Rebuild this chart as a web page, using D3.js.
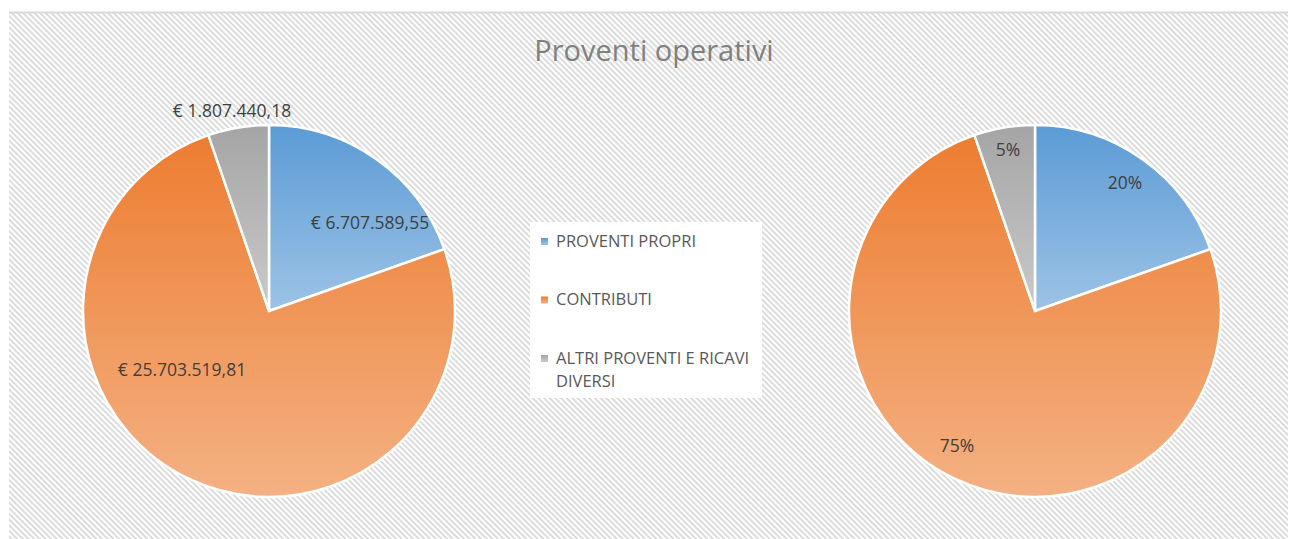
<!DOCTYPE html>
<html lang="it">
<head>
  <meta charset="utf-8">
  <title>Proventi operativi</title>
  <script src="https://d3js.org/d3.v7.min.js"></script>
  <style>
    body { margin: 0; background: #fff; }
    text { font-family: "Open Sans", "Noto Sans", sans-serif; }
  </style>
</head>
<body>
<script>
  // dati
  var categories = ["PROVENTI PROPRI", "CONTRIBUTI", "ALTRI PROVENTI E RICAVI DIVERSI"];
  var values = [6707589.55, 25703519.81, 1807440.18];
  var valueLabels = ["€ 6.707.589,55", "€ 25.703.519,81", "€ 1.807.440,18"];
  var pctLabels = ["20%", "75%", "5%"];

  var width = 1290, height = 539;
  var colorsTop = ["#5b9bd5", "#ed7d31", "#a5a5a5"];
  var colorsBottom = ["#9dc3e6", "#f4b183", "#cacaca"];

  var svg = d3.select("body").append("svg")
    .attr("width", width)
    .attr("height", height);

  var defs = svg.append("defs");

  // sfondo tratteggiato
  var pat = defs.append("pattern")
    .attr("id", "hatch")
    .attr("patternUnits", "userSpaceOnUse")
    .attr("width", 4)
    .attr("height", 4)
    .attr("patternTransform", "rotate(45)");
  pat.append("rect").attr("width", 4).attr("height", 4).attr("fill", "#ffffff");
  pat.append("rect").attr("width", 4).attr("height", 1.7).attr("fill", "#d6d6d6");

  svg.append("rect")
    .attr("x", 9).attr("y", 12)
    .attr("width", 1279).attr("height", 527)
    .attr("fill", "url(#hatch)");
  svg.append("line")
    .attr("x1", 9).attr("x2", 1288)
    .attr("y1", 12.5).attr("y2", 12.5)
    .attr("stroke", "#d9d9d9").attr("stroke-width", 2);

  svg.append("text")
    .attr("x", 654).attr("y", 61)
    .attr("text-anchor", "middle")
    .attr("font-size", "29px")
    .attr("fill", "#808080")
    .text("Proventi operativi");

  var radius = 186;
  var pie = d3.pie().sort(null);
  var arc = d3.arc().innerRadius(0).outerRadius(radius);
  var arcs = pie(values);

  // sfumatura verticale per ogni spicchio (bounding box dello spicchio)
  values.forEach(function (v, i) {
    var gr = defs.append("linearGradient")
      .attr("id", "grad" + i)
      .attr("x1", 0).attr("y1", 0)
      .attr("x2", 0).attr("y2", 1);
    gr.append("stop").attr("offset", "0%").attr("stop-color", colorsTop[i]);
    gr.append("stop").attr("offset", "100%").attr("stop-color", colorsBottom[i]);
  });

  function drawPie(cx, cy, labels, labelPos) {
    var g = svg.append("g")
      .attr("transform", "translate(" + cx + "," + cy + ")");

    g.selectAll("path")
      .data(arcs)
      .enter()
      .append("path")
      .attr("d", arc)
      .attr("fill", function (d, i) { return "url(#grad" + i + ")"; })
      .attr("stroke", "#fff")
      .attr("stroke-width", 2.5)
      .attr("stroke-linejoin", "round");

    g.selectAll("text.lbl")
      .data(arcs)
      .enter()
      .append("text")
      .attr("class", "lbl")
      .attr("x", function (d, i) { return labelPos[i][0]; })
      .attr("y", function (d, i) { return labelPos[i][1]; })
      .attr("dy", "0.35em")
      .attr("text-anchor", "middle")
      .attr("font-size", "17.5px")
      .attr("fill", "#404040")
      .text(function (d, i) { return labels[i]; });
  }

  // posizioni etichette relative al centro della torta
  drawPie(269, 311, valueLabels, [[101, -88], [-87, 59], [-37, -200]]);
  drawPie(1035, 311, pctLabels, [[90, -128], [-78, 135], [-27, -161]]);

  // legenda
  var legend = svg.append("g");
  legend.append("rect")
    .attr("x", 530).attr("y", 222)
    .attr("width", 232).attr("height", 176)
    .attr("fill", "#ffffff");

  var legendY = d3.scalePoint()
    .domain(categories)
    .range([241, 358]);

  var items = legend.selectAll("g.item")
    .data(categories)
    .enter()
    .append("g")
    .attr("class", "item")
    .attr("transform", function (d) { return "translate(541," + legendY(d) + ")"; });

  items.append("rect")
    .attr("x", 0).attr("y", -3)
    .attr("width", 7).attr("height", 7)
    .attr("fill", function (d, i) { return "url(#grad" + i + ")"; });

  items.append("text")
    .attr("font-size", "16.5px")
    .attr("fill", "#595959")
    .each(function (d) {
      var t = d3.select(this);
      var lines = d === categories[2] ? ["ALTRI PROVENTI E RICAVI", "DIVERSI"] : [d];
      lines.forEach(function (l, k) {
        t.append("tspan").attr("x", 15).attr("dy", k === 0 ? "0.35em" : "23px").text(l);
      });
    });
</script>
</body>
</html>
